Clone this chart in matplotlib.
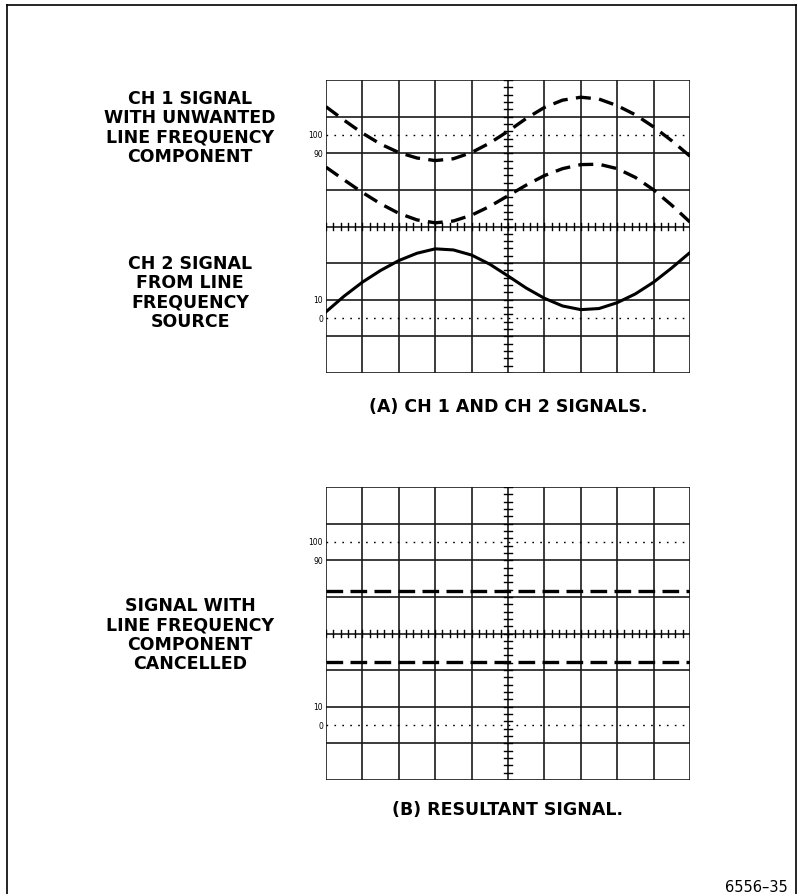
import matplotlib
matplotlib.use("Agg")
import matplotlib.pyplot as plt
from matplotlib.lines import Line2D

# ---- data (graticule divisions; x: 0..10, y: -4..4, 0 = centre line) ----
x_div = [0, 0.5, 1, 1.5, 2, 2.5, 3, 3.5, 4, 4.5, 5, 5.5, 6, 6.5, 7, 7.5, 8, 8.5, 9, 9.5, 10]
ch1_upper = [3.27, 2.90, 2.55, 2.25, 2.02, 1.87, 1.80, 1.85, 2.02, 2.28, 2.60,
             2.95, 3.25, 3.45, 3.53, 3.48, 3.30, 3.05, 2.72, 2.34, 1.92]
ch1_lower = [1.62, 1.27, 0.93, 0.62, 0.36, 0.18, 0.10, 0.15, 0.31, 0.55, 0.84,
             1.13, 1.39, 1.58, 1.69, 1.70, 1.58, 1.34, 1.00, 0.58, 0.12]
ch2_signal = [-2.33, -1.90, -1.52, -1.20, -0.93, -0.73, -0.61, -0.64, -0.78, -1.03, -1.35,
              -1.68, -1.96, -2.17, -2.27, -2.24, -2.08, -1.84, -1.52, -1.13, -0.71]
result_upper = 1.15
result_lower = -0.79

labels_ch1 = "CH 1 SIGNAL\nWITH UNWANTED\nLINE FREQUENCY\nCOMPONENT"
labels_ch2 = "CH 2 SIGNAL\nFROM LINE\nFREQUENCY\nSOURCE"
labels_res = "SIGNAL WITH\nLINE FREQUENCY\nCOMPONENT\nCANCELLED"
caption_a = "(A) CH 1 AND CH 2 SIGNALS."
caption_b = "(B) RESULTANT SIGNAL."
fig_id = "6556\u201335"
scale_labels = [("100", 2.5), ("90", 2.0), ("10", -2.0), ("0", -2.5)]

W, H = 798, 895
fig = plt.figure(figsize=(W / 100, H / 100), dpi=100)
fig.patch.set_facecolor("white")


def fx(px):
    return px / W


def fy(py):
    return 1 - py / H


def graticule(top_px):
    left, right = 326, 690
    bottom = top_px + 293
    ax = fig.add_axes([fx(left), fy(bottom), fx(right) - fx(left), fy(top_px) - fy(bottom)])
    ax.set_xlim(0, 10)
    ax.set_ylim(-4, 4)
    ax.axis("off")
    for i in range(0, 11):
        ax.axvline(i, color="#1a1a1a", lw=1.2, zorder=1)
    for j in range(-4, 5):
        ax.axhline(j, color="#1a1a1a", lw=1.2, zorder=1)
    # dotted 0% / 100% lines
    for yv in (2.5, -2.5):
        ax.plot([0, 10], [yv, yv], color="black", lw=1.0, ls=(0, (1.2, 4.5)), zorder=1)
    # centre minor ticks
    for k in range(0, 51):
        t = k * 0.2
        ax.plot([t, t], [-0.1, 0.1], color="black", lw=1.0, zorder=1)
    for k in range(0, 41):
        t = -4 + k * 0.2
        ax.plot([4.9, 5.1], [t, t], color="black", lw=1.0, zorder=1)
    for txt, yv in scale_labels:
        ax.text(-0.08, yv, txt, ha="right", va="center", fontsize=5.5,
                family="DejaVu Sans", clip_on=False)
    return ax


ax1 = graticule(81)
ax1.plot(x_div, ch1_upper, color="black", lw=2.4, ls=(0, (4.5, 2.5)), zorder=3)
ax1.plot(x_div, ch1_lower, color="black", lw=2.4, ls=(0, (4.5, 2.5)), zorder=3)
ax1.plot(x_div, ch2_signal, color="black", lw=2.2, zorder=3)

ax2 = graticule(488)
ax2.plot([0, 10], [result_upper, result_upper], color="black", lw=2.4, ls=(0, (5, 2.2)), zorder=3)
ax2.plot([0, 10], [result_lower, result_lower], color="black", lw=2.4, ls=(0, (5, 2.2)), zorder=3)

font = dict(family="DejaVu Sans", fontweight="bold", fontsize=12.5)
fig.text(fx(190), fy(128), labels_ch1, ha="center", va="center", linespacing=1.08, **font)
fig.text(fx(190), fy(293), labels_ch2, ha="center", va="center", linespacing=1.08, **font)
fig.text(fx(190), fy(635), labels_res, ha="center", va="center", linespacing=1.08, **font)
fig.text(fx(508), fy(407), caption_a, ha="center", va="center", **font)
fig.text(fx(508), fy(810), caption_b, ha="center", va="center", **font)
fig.text(fx(788), fy(888), fig_id, ha="right", va="center", family="DejaVu Sans", fontsize=10.5)

# outer border
fig.add_artist(Line2D([fx(7), fx(7)], [fy(6), 0], color="black", lw=1.2))
fig.add_artist(Line2D([fx(7), fx(796)], [fy(6), fy(6)], color="black", lw=1.2))
fig.add_artist(Line2D([fx(796), fx(796)], [fy(6), 0], color="black", lw=1.2))

fig.savefig("out.png", dpi=100, facecolor="white")
